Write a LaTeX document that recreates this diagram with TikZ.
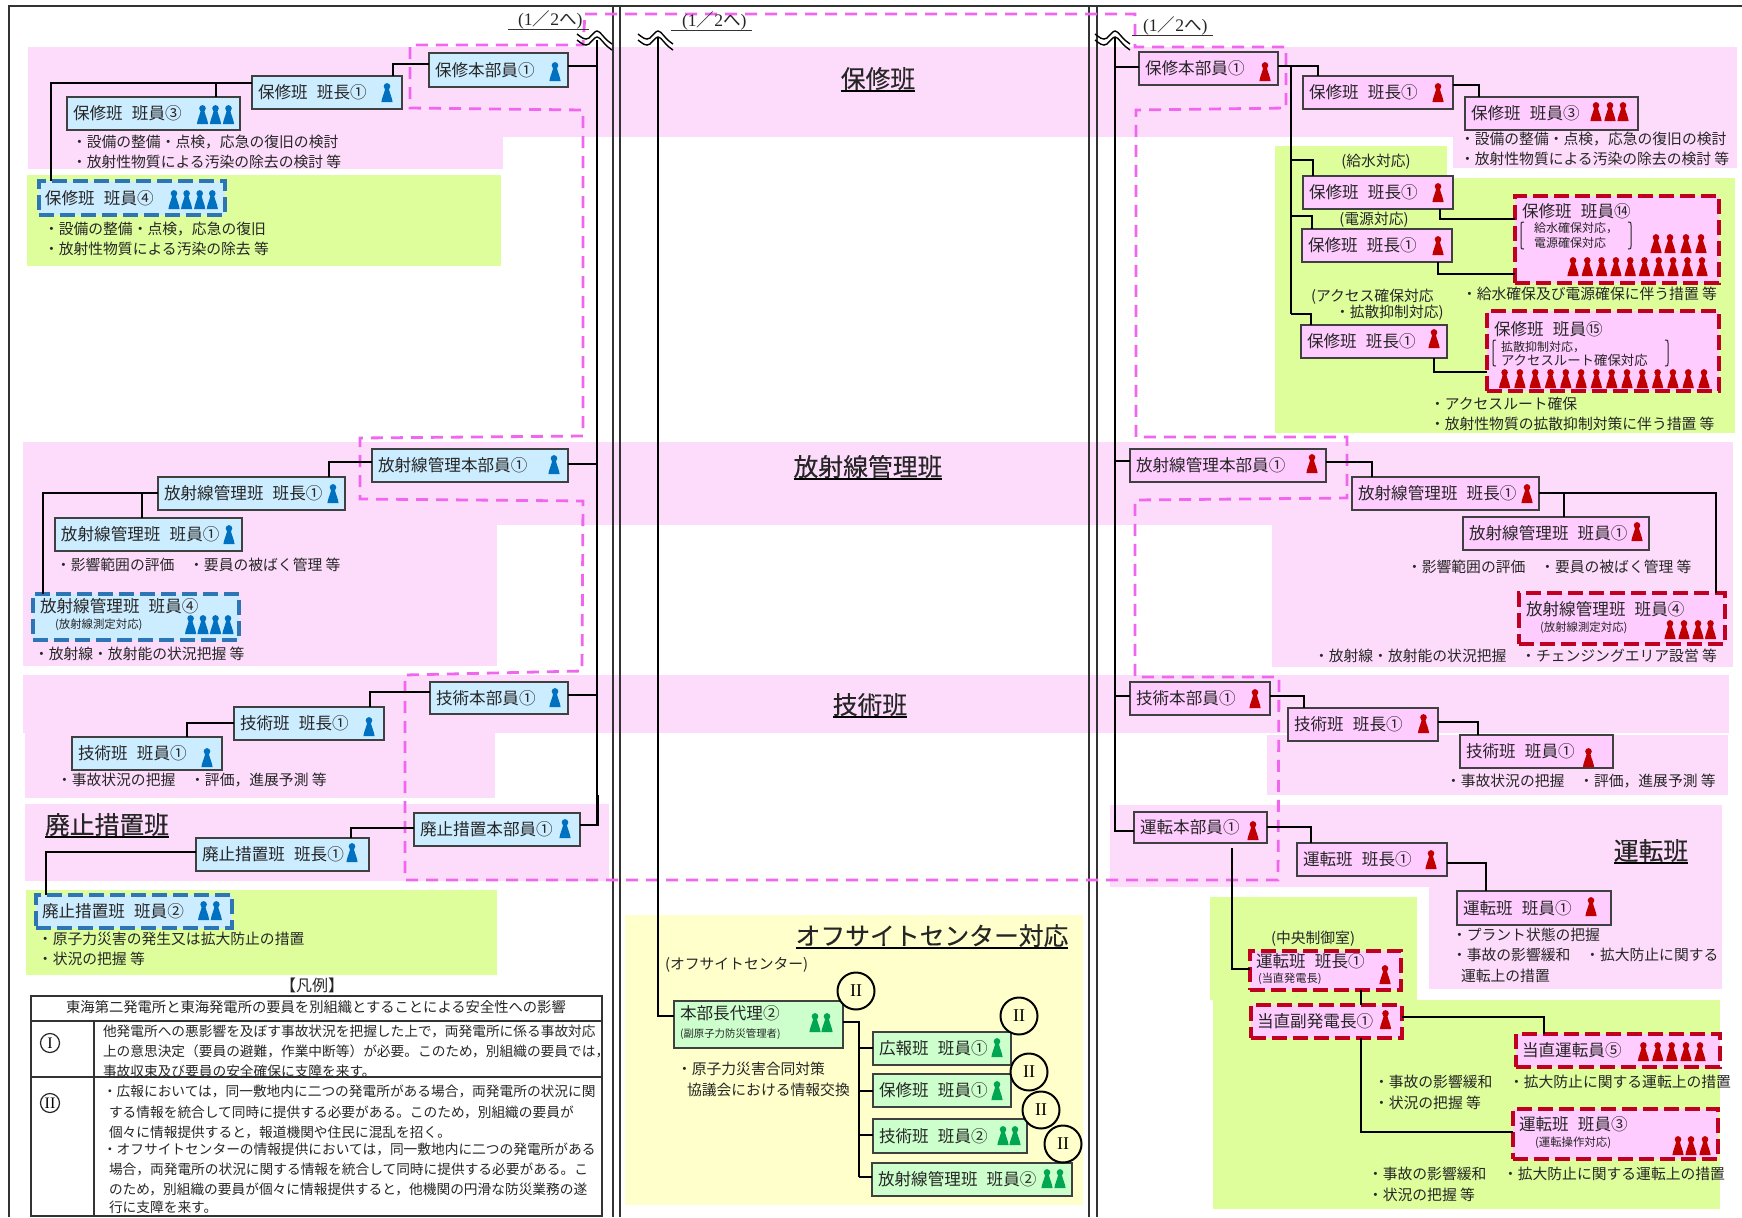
\documentclass[tikz,border=0pt]{standalone}
\usepackage{fontspec}
\setmainfont{Noto Sans CJK JP}
\newfontfamily\serifn{Liberation Serif}
\newfontfamily\heavyf[FakeBold=0.25]{Noto Sans CJK JP}
\definecolor{bandpink}{HTML}{FDDCFB}
\definecolor{bandgreen}{HTML}{DEFE9C}
\definecolor{bandyellow}{HTML}{FFFFCC}
\definecolor{dashmag}{HTML}{F066EE}
\definecolor{boxblue}{HTML}{CCECFF}
\definecolor{boxpink}{HTML}{FFCCFF}
\definecolor{boxgreen}{HTML}{CCFFCC}
\definecolor{pblue}{HTML}{0070C0}
\definecolor{pred}{HTML}{C00000}
\definecolor{pgreen}{HTML}{00A651}
\definecolor{edgeblue}{HTML}{2E75B6}
\definecolor{edgered}{HTML}{C00020}
\definecolor{inkc}{HTML}{262626}
\newcounter{lblc}
\newcommand{\gapp}{\hspace{.55em}}
\newcommand{\fsz}[1]{\fontsize{#1}{#1}\selectfont}
% style, name, x1,y1,x2,y2, text
\newcommand{\obox}[7]{%
\pgfmathsetmacro{\ow}{(#5-#3)*0.5}\pgfmathsetmacro{\oh}{(#6-#4)*0.5}%
\pgfmathsetmacro{\ocx}{(#3+#5)/2}\pgfmathsetmacro{\ocy}{(#4+#6)/2}%
\node[#1,minimum width=\ow pt,minimum height=\oh pt,text width=\ow pt-6pt] (#2) at (\ocx,\ocy) {#7};}
% size,x,y,text (left aligned at x, centred on y)
\newcommand{\lbl}[4]{\stepcounter{lblc}\node[lblst,font=\fsz{#1}] (t\thelblc) at (#2,#3) {#4};}
\newcommand{\lblc}[4]{\stepcounter{lblc}\node[lblst,anchor=center,font=\fsz{#1}] (t\thelblc) at (#2,#3) {#4};}
\newcommand{\ttl}[4]{\node[lblst,anchor=center,text height=10.5pt,text depth=1.5pt,font=\heavyf\fsz{12.4}] (#1) at (#2,#3) {#4};
\draw[line width=.8pt,black] (#1.south west) -- (#1.south east);}
\newcommand{\pawns}[3]{\foreach \px in {#3} {\pic[fill=#1] at (\px,#2) {pawn};}}
\newcommand{\lbr}[3]{\draw[line width=.5pt,inkc] (#1+3,#2) .. controls (#1,#2) and (#1,#2) .. (#1,#2+3) -- (#1,#3-3) .. controls (#1,#3) and (#1,#3) .. (#1+3,#3);}
\newcommand{\rbr}[3]{\draw[line width=.5pt,inkc] (#1-3,#2) .. controls (#1,#2) and (#1,#2) .. (#1,#2+3) -- (#1,#3-3) .. controls (#1,#3) and (#1,#3) .. (#1-3,#3);}
\newcommand{\onetwo}{{\serifn(1}／{\serifn 2}へ{\serifn)}}
\tikzset{
 lblst/.style={anchor=west,inner sep=0pt,outer sep=0pt,text=inkc,text height=6.2pt,text depth=1.5pt},
 orgb/.style={draw=#1,line width=.7pt,inner ysep=0pt,inner xsep=3pt,outer sep=0pt,align=left,text=inkc,font=\fsz{8.3}},
 bluebox/.style={orgb=black!75,fill=boxblue},
 pinkbox/.style={orgb=black!75,fill=boxpink},
 greenbox/.style={orgb=black!75,fill=boxgreen},
 bluedash/.style={orgb=edgeblue,fill=boxblue,line width=1.6pt,dash pattern=on 7.5pt off 3pt},
 reddash/.style={orgb=edgered,fill=boxpink,line width=1.6pt,dash pattern=on 7.5pt off 3pt},
 conn/.style={draw=black,line width=.9pt},
 connb/.style={draw=black,line width=1.35pt},
 frameln/.style={draw=black!80,line width=.9pt},
 roundii/.style={circle,draw=black,line width=1pt,fill=bandyellow,minimum size=18.5pt,inner sep=0pt,font=\serifn\fsz{9}},
 pawn/.pic={\fill[pic actions] (0,-15.6) circle [radius=3.3];
  \fill[pic actions] (-5.6,0) .. controls (-5,-5) and (-2.6,-9) .. (-1.8,-13.5) -- (1.8,-13.5) .. controls (2.6,-9) and (5,-5) .. (5.6,0) -- cycle;},
 breakwave/.pic={\foreach \d in {0,6} {\draw[black,line width=.7pt] (-20,3+\d) .. controls (-16,6+\d) and (-12,10+\d) .. (-8,7+\d) .. controls (-5,4+\d) and (-2,0+\d) .. (0,0+\d) .. controls (3,0+\d) and (7,7+\d) .. (11,10+\d) -- (15,13+\d);}},
}
\begin{document}
\begin{tikzpicture}[x=0.5pt,y=-0.5pt,line join=miter]
\useasboundingbox (0,0) rectangle (1742,1217);
\fill[white] (0,0) rectangle (1742,1217);
% bands
\fill[bandpink] (28,47) rectangle (1737,137);
\fill[bandpink] (28,137) rectangle (503,169);
\fill[bandpink] (1453,137) rectangle (1737,168);
\fill[bandgreen] (27,175) rectangle (501,266);
\fill[bandgreen] (1275,146) rectangle (1447,178);
\fill[bandgreen] (1275,178) rectangle (1735,433);
\fill[bandpink] (23,442) rectangle (1733,525);
\fill[bandpink] (23,525) rectangle (497,666);
\fill[bandpink] (1272,525) rectangle (1733,667);
\fill[bandpink] (23,675) rectangle (1729,733);
\fill[bandpink] (25,733) rectangle (495,798);
\fill[bandpink] (1267,735) rectangle (1728,795);
\fill[bandpink] (25,804) rectangle (609,881);
\fill[bandpink] (1110,805) rectangle (1722,887);
\fill[bandpink] (1429,887) rectangle (1722,989);
\fill[bandgreen] (26,890) rectangle (497,975);
\fill[bandgreen] (1210,897) rectangle (1417,1000);
\fill[bandgreen] (1213,1000) rectangle (1720,1209);
\fill[bandyellow] (625,915) rectangle (1083,1205);
% frame
\draw[frameln,line width=1.1pt] (9,1217) -- (9,6) -- (1742,6);
\foreach \fx in {613,620,1089,1097} {\draw[frameln] (\fx,6) -- (\fx,1217);}
% dashed magenta enclosure
\draw[dashmag,line width=1.4pt,dash pattern=on 6pt off 4pt]
 (585,14) -- (1135,14) -- (1135,47) -- (1286,47) -- (1286,108) -- (1136,110) -- (1136,437) -- (1347,437) -- (1347,498) -- (1135,500) -- (1135,677) -- (1279,677) -- (1278,880) -- (405,880) -- (405,675) -- (582,671) -- (583,501) -- (360,499) -- (360,438) -- (583,436) -- (583,110) -- (410,108) -- (410,45) -- (583,45) -- (585,14);
% trunks
\pic at (597,31) {breakwave};
\pic at (658,31) {breakwave};
\pic at (1115,31) {breakwave};
\coordinate (tkL) at (597,40);
\coordinate (tkC) at (658,37);
\coordinate (tkR) at (1115,37);
% boxes - left
\obox{bluebox}{lhq}{429}{53}{568}{87}{保修本部員①}
\obox{bluebox}{lch}{252}{76}{402}{109}{保修班\gapp 班長①}
\obox{bluebox}{lm3}{67}{97}{240}{130}{保修班\gapp 班員③}
\obox{bluedash}{lm4}{39}{181}{225}{215}{保修班\gapp 班員④}
\obox{bluebox}{lrhq}{372}{449}{568}{482}{放射線管理本部員①}
\obox{bluebox}{lrch}{158}{477}{345}{510}{放射線管理班\gapp 班長①}
\obox{bluebox}{lrm1}{55}{518}{242}{551}{放射線管理班\gapp 班員①}
\obox{bluedash}{lrm4}{33}{594}{239}{640}{}
\obox{bluebox}{lthq}{430}{682}{568}{714}{技術本部員①}
\obox{bluebox}{ltch}{234}{707}{384}{740}{技術班\gapp 班長①}
\obox{bluebox}{ltm1}{72}{737}{222}{770}{技術班\gapp 班員①}
\obox{bluebox}{ldhq}{414}{813}{580}{846}{廃止措置本部員①}
\obox{bluebox}{ldch}{196}{838}{369}{871}{廃止措置班\gapp 班長①}
\obox{bluedash}{ldm2}{36}{895}{232}{928}{廃止措置班\gapp 班員②}
% boxes - right
\obox{pinkbox}{rhq}{1139}{52}{1278}{85}{保修本部員①}
\obox{pinkbox}{rch}{1303}{76}{1453}{109}{保修班\gapp 班長①}
\obox{pinkbox}{rm3}{1465}{97}{1638}{130}{保修班\gapp 班員③}
\obox{pinkbox}{rc2}{1303}{176}{1453}{209}{保修班\gapp 班長①}
\obox{pinkbox}{rc3}{1302}{229}{1452}{262}{保修班\gapp 班長①}
\obox{reddash}{rm14}{1515}{196}{1719}{283}{}
\obox{pinkbox}{rc4}{1301}{325}{1447}{358}{保修班\gapp 班長①}
\obox{reddash}{rm15}{1487}{311}{1719}{391}{}
\obox{pinkbox}{rrhq}{1130}{449}{1326}{482}{放射線管理本部員①}
\obox{pinkbox}{rrch}{1352}{477}{1539}{510}{放射線管理班\gapp 班長①}
\obox{pinkbox}{rrm1}{1463}{517}{1649}{550}{放射線管理班\gapp 班員①}
\obox{reddash}{rrm4}{1519}{593}{1725}{644}{}
\obox{pinkbox}{rthq}{1130}{682}{1270}{715}{技術本部員①}
\obox{pinkbox}{rtch}{1288}{708}{1438}{741}{技術班\gapp 班長①}
\obox{pinkbox}{rtm1}{1460}{735}{1613}{768}{技術班\gapp 班員①}
\obox{pinkbox}{rohq}{1134}{812}{1267}{843}{運転本部員①}
\obox{pinkbox}{roch}{1297}{843}{1447}{876}{運転班\gapp 班長①}
\obox{pinkbox}{rom1}{1457}{891}{1611}{925}{運転班\gapp 班員①}
\obox{reddash}{rosh}{1250}{951}{1401}{990}{}
\obox{reddash}{rovs}{1251}{1005}{1402}{1038}{当直副発電長①}
\obox{reddash}{rop5}{1516}{1034}{1720}{1067}{当直運転員⑤}
\obox{reddash}{rom3}{1513}{1109}{1718}{1159}{}
% boxes - centre
\obox{greenbox}{cdep}{674}{1001}{843}{1048}{}
\obox{greenbox}{cpr}{873}{1032}{1011}{1065}{広報班\gapp 班員①}
\obox{greenbox}{cmt}{873}{1074}{1011}{1107}{保修班\gapp 班員①}
\obox{greenbox}{cte}{873}{1119}{1027}{1153}{技術班\gapp 班員②}
\obox{greenbox}{cra}{872}{1163}{1072}{1196}{放射線管理班\gapp 班員②}
% connectors - left
\draw[conn] (tkL) -- (597,825);
\draw[conn] (lhq.east |- 0,66) -- (tkL |- 0,66);
\draw[connb] (lhq.west |- 0,64) -| (lch.north -| 393,0);
\draw[connb] (lch.west |- 0,83) -| (lm4.north -| 51,0);
\draw[conn] (216,83) -- (lm3.north -| 216,0);
\draw[conn] (lrhq.east |- 0,464) -- (tkL |- 0,464);
\draw[connb] (lrhq.west |- 0,462) -| (lrch.north -| 329,0);
\draw[connb] (lrch.west |- 0,493) -| (lrm4.north -| 43,0);
\draw[connb] (142,493) -- (lrm1.north -| 142,0);
\draw[conn] (lthq.east |- 0,695) -- (tkL |- 0,695);
\draw[connb] (lthq.west |- 0,692) -| (ltch.north -| 370,0);
\draw[connb] (ltch.west |- 0,723) -| (ltm1.north -| 187,0);
\draw[connb] (ldhq.east |- 0,825) -| (598,795);
\draw[connb] (ldhq.west |- 0,828) -| (ldch.north -| 351,0);
\draw[connb] (ldch.west |- 0,852) -| (ldm2.north -| 46,0);
% connectors - right
\draw[connb] (tkR) -- (1115,831) -- (rohq.west |- 0,831);
\draw[connb] (tkR |- 0,67) -- (rhq.west |- 0,67);
\draw[connb] (rhq.east |- 0,66) -| (rch.north -| 1318,0);
\draw[conn] (1291,66) -- (1291,314);
\draw[connb] (1291,160) -| (rc2.north -| 1313,0);
\draw[conn] (1291,216) -| (rc3.north -| 1312,0);
\draw[conn] (1291,314) -| (rc4.north -| 1311,0);
\draw[connb] (rch.east |- 0,85) -| (rm3.north -| 1479,0);
\draw[connb] (rc2.south -| 1440,0) |- (rm14.west |- 0,219);
\draw[connb] (rc3.south -| 1438,0) |- (rm14.west |- 0,274);
\draw[connb] (rc4.south -| 1434,0) |- (rm15.west |- 0,372);
\draw[connb] (tkR |- 0,461) -- (rrhq.west |- 0,461);
\draw[connb] (rrhq.east |- 0,462) -| (rrch.north -| 1372,0);
\draw[connb] (rrch.east |- 0,493) -| (rrm4.north -| 1716,0);
\draw[connb] (1564,493) -- (rrm1.north -| 1564,0);
\draw[connb] (tkR |- 0,696) -- (rthq.west |- 0,696);
\draw[connb] (rthq.east |- 0,696) -| (rtch.north -| 1304,0);
\draw[connb] (rtch.east |- 0,722) -| (rtm1.north -| 1478,0);
\draw[connb] (rohq.east |- 0,827) -| (roch.north -| 1311,0);
\draw[connb] (roch.east |- 0,863) -| (rom1.north -| 1486,0);
\draw[connb] (1232,848) |- (rosh.west |- 0,969);
\draw[connb] (rosh.south -| 1361,0) -- (rovs.north -| 1361,0);
\draw[connb] (rovs.east |- 0,1017) -| (rop5.north -| 1544,0);
\draw[connb] (rovs.south -| 1361,0) |- (rom3.west |- 0,1132);
% connectors - centre
\draw[connb] (tkC) -- (658,1016) -- (cdep.west |- 0,1016);
\draw[connb] (cdep.east |- 0,1022) -| (859,1177);
\draw[connb] (859,1048) -- (cpr.west |- 0,1048);
\draw[connb] (859,1091) -- (cmt.west |- 0,1091);
\draw[connb] (859,1135) -- (cte.west |- 0,1135);
\draw[connb] (859,1177) -- (cra.west |- 0,1177);
% circles
\node[roundii] (c1) at (856,991) {II};
\node[roundii] (c2) at (1019,1016) {II};
\node[roundii] (c3) at (1029,1072) {II};
\node[roundii] (c4) at (1041,1110) {II};
\node[roundii] (c5) at (1063,1144) {II};
% pawns - left
\pawns{pblue}{81}{555}
\pawns{pblue}{102}{387}
\pawns{pblue}{124}{202.5,215.5,228.5}
\pawns{pblue}{209}{174,186.6,199.7,212.3}
\pawns{pblue}{474}{554}
\pawns{pblue}{503}{333}
\pawns{pblue}{544}{229}
\pawns{pblue}{634}{190.6,203,215.5,228}
\pawns{pblue}{707}{555}
\pawns{pblue}{736}{369}
\pawns{pblue}{767}{207}
\pawns{pblue}{838}{565}
\pawns{pblue}{862}{352}
\pawns{pblue}{920}{203.6,216.3}
% pawns - right
\pawns{pred}{81}{1265}
\pawns{pred}{102}{1438}
\pawns{pred}{121}{1596,1610,1623}
\pawns{pred}{202}{1438}
\pawns{pred}{255}{1438}
\pawns{pred}{348}{1434}
\pawns{pred}{253}{1656,1670,1686,1701}
\pawns{pred}{276}{1573,1587.3,1601.6,1615.9,1630.2,1644.5,1658.8,1673.1,1687.4,1702}
\pawns{pred}{388}{1504.6,1519.9,1535.2,1550.5,1565.8,1581.1,1596.4,1611.7,1627,1642.3,1657.6,1672.9,1688.2,1704}
\pawns{pred}{473}{1312}
\pawns{pred}{503}{1527}
\pawns{pred}{541}{1637}
\pawns{pred}{639}{1670,1684,1698,1710.5}
\pawns{pred}{708}{1255}
\pawns{pred}{733}{1423.5}
\pawns{pred}{767}{1588.5}
\pawns{pred}{840}{1253}
\pawns{pred}{869}{1431}
\pawns{pred}{916}{1591}
\pawns{pred}{984}{1385}
\pawns{pred}{1029}{1385.5}
\pawns{pred}{1061}{1643.4,1657.7,1671.7,1686,1700}
\pawns{pred}{1155}{1678,1691,1705}
% pawns - centre
\pawns{pgreen}{1032}{815,827}
\pawns{pgreen}{1057}{997}
\pawns{pgreen}{1100}{997}
\pawns{pgreen}{1145}{1003,1015}
\pawns{pgreen}{1188}{1047,1060}
% multi-line box texts
\lbl{8.3}{40}{608}{放射線管理班\gapp 班員④}
\lbl{5.7}{55}{624}{(放射線測定対応)}
\lbl{8.3}{1526}{611}{放射線管理班\gapp 班員④}
\lbl{5.7}{1540}{627}{(放射線測定対応)}
\lbl{8.3}{1522}{213}{保修班\gapp 班員⑭}
\lbl{6}{1534}{228}{給水確保対応，}
\lbl{6}{1534}{243}{電源確保対応}
\lbr{1521}{222}{249}
\rbr{1631}{222}{249}
\lbl{8.3}{1494}{331}{保修班\gapp 班員⑮}
\lbl{6}{1501}{347}{拡散抑制対応，}
\lbl{6.7}{1501}{361}{アクセスルート確保対応}
\lbr{1493}{340}{366}
\rbr{1668}{340}{366}
\lbl{8.3}{1256}{963}{運転班\gapp 班長①}
\lbl{5.6}{1258}{978}{(当直発電長)}
\lbl{8.3}{1519}{1126}{運転班\gapp 班員③}
\lbl{5.7}{1535}{1142}{(運転操作対応)}
\lbl{8.3}{680}{1015}{本部長代理②}
\lbl{5.2}{680}{1033}{(副原子力防災管理者)}
% side texts
\lbl{7.4}{72}{143}{・設備の整備・点検，応急の復旧の検討}
\lbl{7.4}{72}{163}{・放射性物質による汚染の除去の検討 等}
\lbl{7.4}{44}{230}{・設備の整備・点検，応急の復旧}
\lbl{7.4}{44}{250}{・放射性物質による汚染の除去 等}
\lbl{7.4}{56}{566}{・影響範囲の評価\hspace{1em}・要員の被ばく管理 等}
\lbl{7.4}{34}{655}{・放射線・放射能の状況把握 等}
\lbl{7.4}{57}{781}{・事故状況の把握\hspace{1em}・評価，進展予測 等}
\lbl{7.4}{38}{940}{・原子力災害の発生又は拡大防止の措置}
\lbl{7.4}{38}{960}{・状況の把握 等}
\lbl{7.4}{1460}{140}{・設備の整備・点検，応急の復旧の検討}
\lbl{7.4}{1460}{160}{・放射性物質による汚染の除去の検討 等}
\lblc{7.4}{1376}{162}{(給水対応)}
\lblc{7.4}{1374}{220}{(電源対応)}
\lbl{7.4}{1311}{297}{(アクセス確保対応}
\lbl{7.4}{1335}{313}{・拡散抑制対応)}
\lbl{7.4}{1462}{295}{・給水確保及び電源確保に伴う措置 等}
\lbl{7.4}{1430}{405}{・アクセスルート確保}
\lbl{7.4}{1430}{425}{・放射性物質の拡散抑制対策に伴う措置 等}
\lbl{7.4}{1407}{568}{・影響範囲の評価\hspace{1em}・要員の被ばく管理 等}
\lbl{7.4}{1314}{657}{・放射線・放射能の状況把握\hspace{1em}・チェンジングエリア設営 等}
\lbl{7.4}{1446}{782}{・事故状況の把握\hspace{1em}・評価，進展予測 等}
\lbl{7.4}{1452}{936}{・プラント状態の把握}
\lbl{7.4}{1452}{956}{・事故の影響緩和\hspace{1em}・拡大防止に関する}
\lbl{7.4}{1461}{977}{運転上の措置}
\lblc{7.4}{1313}{939}{(中央制御室)}
\lbl{7.4}{1374}{1083}{・事故の影響緩和}
\lbl{7.4}{1509}{1083}{・拡大防止に関する運転上の措置}
\lbl{7.4}{1374}{1104}{・状況の把握 等}
\lbl{7.4}{1368}{1175}{・事故の影響緩和}
\lbl{7.4}{1503}{1175}{・拡大防止に関する運転上の措置}
\lbl{7.4}{1368}{1196}{・状況の把握 等}
\lbl{7.4}{665}{965}{(オフサイトセンター)}
\lbl{7.4}{677}{1070}{・原子力災害合同対策}
\lbl{7.4}{687}{1091}{協議会における情報交換}
% section titles
\ttl{hoshu}{878}{79}{保修班}
\ttl{hosha}{868}{467}{放射線管理班}
\ttl{gijutsu}{870}{705}{技術班}
\ttl{unten}{1651}{851}{運転班}
\ttl{haishi}{107}{825}{廃止措置班}
\ttl{offsite}{932}{936}{オフサイトセンター対応}
% page references
\lbl{8.8}{518}{21}{\onetwo}
\lbl{8.8}{682}{22}{\onetwo}
\lbl{8.8}{1143}{27}{\onetwo}
\draw[line width=.5pt,black!80] (508,29) -- (589,29);
\draw[line width=.5pt,black!80] (671,30) -- (752,30);
\draw[line width=.5pt,black!80] (1132,35) -- (1213,35);
% legend
\lblc{8}{312}{987}{【凡例】}
\draw[line width=.6pt,black!80] (31,996) rectangle (602,1216);
\draw[line width=.6pt,black!80] (31,1021) -- (602,1021);
\draw[line width=.6pt,black!80] (31,1077) -- (602,1077);
\draw[line width=.6pt,black!80] (94,1021) -- (94,1216);
\lblc{7.15}{316}{1008}{東海第二発電所と東海発電所の要員を別組織とすることによる安全性への影響}
\node[circle,draw=inkc,line width=.6pt,minimum size=9.5pt,inner sep=0pt,font=\serifn\fsz{8}] (lgI) at (50,1043) {I};
\node[circle,draw=inkc,line width=.6pt,minimum size=9.5pt,inner sep=0pt,font=\serifn\fsz{8}] (lgII) at (50,1103) {II};
\lbl{6.85}{103}{1032}{他発電所への悪影響を及ぼす事故状況を把握した上で，両発電所に係る事故対応}
\lbl{6.85}{103}{1052}{上の意思決定（要員の避難，作業中断等）が必要。このため，別組織の要員では，}
\lbl{6.85}{103}{1072}{事故収束及び要員の安全確保に支障を来す。}
\lbl{6.85}{103}{1092}{・広報においては，同一敷地内に二つの発電所がある場合，両発電所の状況に関}
\lbl{6.85}{109}{1113}{する情報を統合して同時に提供する必要がある。このため，別組織の要員が}
\lbl{6.85}{109}{1133}{個々に情報提供すると，報道機関や住民に混乱を招く。}
\lbl{6.85}{103}{1150}{・オフサイトセンターの情報提供においては，同一敷地内に二つの発電所がある}
\lbl{6.85}{109}{1170}{場合，両発電所の状況に関する情報を統合して同時に提供する必要がある。こ}
\lbl{6.85}{109}{1190}{のため，別組織の要員が個々に情報提供すると，他機関の円滑な防災業務の遂}
\lbl{6.85}{109}{1208}{行に支障を来す。}
\end{tikzpicture}
\end{document}
